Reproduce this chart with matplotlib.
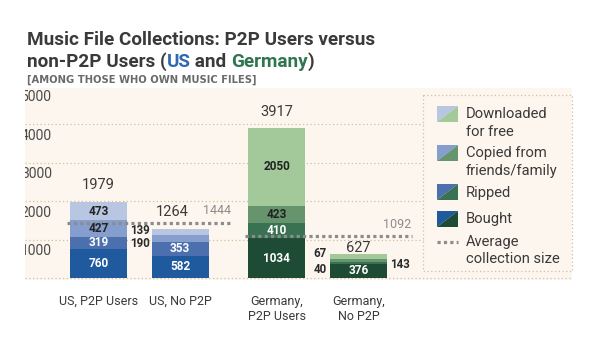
import matplotlib
matplotlib.use("Agg")
import matplotlib.pyplot as plt
from matplotlib.patches import Rectangle, Polygon
import numpy as np

# ---- data ----
categories = ["US, P2P Users", "US, No P2P", "Germany,\nP2P Users", "Germany,\nNo P2P"]
bought     = [760, 582, 1034, 376]
ripped     = [319, 353, 410, 40]
copied     = [427, 190, 423, 67]
downloaded = [473, 139, 2050, 143]
totals     = [1979, 1264, 3917, 627]
avg_us, avg_de = 1444, 1092
yticks = [1000, 2000, 3000, 4000, 5000]
legend_labels = ["Downloaded\nfor free", "Copied from\nfriends/family", "Ripped", "Bought", "Average\ncollection size"]

# ---- style ----
FONT = "Roboto"
plt.rcParams['font.family'] = [FONT, 'DejaVu Sans']
us_cols = ["#1f5a9e", "#4c70ae", "#859ecd", "#b9c6e1"]   # bought, ripped, copied, downloaded
de_cols = ["#1d4b33", "#397252", "#65946d", "#a3c99a"]
txt_dark = "#3a3a3a"
cream = "#fdf6ee"
grid_col = "#d3bf9f"
avg_col = "#8c8c8c"

W, H = 600, 345
fig = plt.figure(figsize=(6, 3.45), dpi=100, facecolor="white")

# plotting axes mapped to pixel region
px_l, px_r, px_t, px_b = 25, 572, 88, 280
ax = fig.add_axes([px_l / W, 1 - px_b / H, (px_r - px_l) / W, (px_b - px_t) / H])
ax.set_facecolor(cream)
for s in ax.spines.values():
    s.set_visible(False)
ax.set_xticks([]); ax.set_yticks([])

xpos = np.array([0, 1, 2.18, 3.18])
unit_px = 81.75
xmin = -(98.5 - px_l) / unit_px
xmax = xmin + (px_r - px_l) / unit_px
ypx = 38.4 / 1000
ax.set_xlim(xmin, xmax)
ax.set_ylim(-(px_b - 278) / ypx, (278 - px_t) / ypx)
width = 0.70
legend_left = (423 - 98.5) / unit_px

# grid
for v in yticks[:-1]:
    ax.plot([xmin, legend_left], [v, v], ls=(0, (1, 2)), lw=0.9, color=grid_col, zorder=1)
ax.plot([xmin, xmax], [0, 0], ls=(0, (1, 2)), lw=0.9, color=grid_col, zorder=1, clip_on=False)

# y tick labels (clipped at panel left edge, as in the reference)
for v in yticks:
    ax.annotate(f"{v}", (xmin, v), xytext=(-3, -3.2), textcoords="offset points",
                ha="left", va="top", fontsize=10, color="#4a4a4a",
                annotation_clip=False, clip_on=True)

# bars
segs = [bought, ripped, copied, downloaded]
for i in range(4):
    cols = us_cols if i < 2 else de_cols
    bottom = 0
    for k, seg in enumerate(segs):
        ax.bar(xpos[i], seg[i], width=width, bottom=bottom, color=cols[k], zorder=2, linewidth=0)
        bottom += seg[i]

# inside labels
def inside(i, k, color):
    b = sum(s[i] for s in segs[:k])
    ax.text(xpos[i], b + segs[k][i] / 2, f"{segs[k][i]}", ha="center", va="center",
            fontsize=8.5, fontweight="bold", color=color, zorder=4)

inside(0, 0, "white"); inside(0, 1, "white"); inside(0, 2, "#222222"); inside(0, 3, "#222222")
inside(1, 0, "white"); inside(1, 1, "white")
inside(2, 0, "white"); inside(2, 1, "white"); inside(2, 2, "#222222"); inside(2, 3, "#222222")
inside(3, 0, "white")

# outside small-segment labels
def outside(i, k, side, dy_pt, dx_pt=2):
    b = sum(s[i] for s in segs[:k]) + segs[k][i] / 2
    x = xpos[i] - width / 2 if side == "left" else xpos[i] + width / 2
    ax.annotate(f"{segs[k][i]}", (x, b), xytext=(-dx_pt if side == "left" else dx_pt, dy_pt),
                textcoords="offset points", ha="right" if side == "left" else "left",
                va="center", fontsize=8.3, fontweight="bold", color="#2a2a2a", zorder=4)

outside(1, 2, "left", -3.5, 1)
outside(1, 3, "left", 1.5, 1)
outside(3, 1, "left", -5, 2)
outside(3, 2, "left", 5, 2)
outside(3, 3, "right", -5.5, 2)

# totals
tot_off = [12.5, 12.5, 11, 4.5]
tot_dx = [0, -6, 0, 0]
for i in range(4):
    ax.annotate(f"{totals[i]}", (xpos[i], totals[i]), xytext=(tot_dx[i], tot_off[i]),
                textcoords="offset points", ha="center", va="center",
                fontsize=10.5, color=txt_dark, zorder=4)

# average lines
us_x0, us_x1 = xpos[0] - width / 2 - 0.04, xpos[1] + width / 2 + 0.27
de_x0, de_x1 = xpos[2] - width / 2 - 0.04, xpos[3] + width / 2 + 0.30
ax.plot([us_x0, us_x1], [avg_us, avg_us], ls=(0, (1, 1)), lw=2.3, color=avg_col, zorder=3)
ax.plot([de_x0, de_x1], [avg_de, avg_de], ls=(0, (1, 1)), lw=2.3, color=avg_col, zorder=3)
ax.annotate(f"{avg_us}", (us_x1, avg_us), xytext=(0, 4), textcoords="offset points",
            ha="right", va="bottom", fontsize=9, color=avg_col)
ax.annotate(f"{avg_de}", (de_x1, avg_de), xytext=(0, 4), textcoords="offset points",
            ha="right", va="bottom", fontsize=9, color=avg_col)

# category labels
for i in range(4):
    ax.annotate(categories[i], (xpos[i], 0), xytext=(0, -12), textcoords="offset points",
                ha="center", va="top", fontsize=9, color=txt_dark, linespacing=1.25,
                annotation_clip=False)

# ---- overlay in pixel coordinates for title & legend ----
ov = fig.add_axes([0, 0, 1, 1], facecolor="none")
ov.set_xlim(0, W); ov.set_ylim(H, 0); ov.axis("off")

TS = 13.6
ov.text(27, 40, "Music File Collections: P2P Users versus", fontsize=TS, fontweight="bold",
        color=txt_dark, va="center", ha="left")
t1 = ov.text(27, 62, "non-P2P Users (", fontsize=TS, fontweight="bold", color=txt_dark, va="center", ha="left")
t2 = ov.annotate("US", xycoords=t1, xy=(1, 0), va="bottom", ha="left", fontsize=TS, fontweight="bold", color="#2e68b0")
t3 = ov.annotate(" and ", xycoords=t2, xy=(1, 0), va="bottom", ha="left", fontsize=TS, fontweight="bold", color=txt_dark)
t4 = ov.annotate("Germany", xycoords=t3, xy=(1, 0), va="bottom", ha="left", fontsize=TS, fontweight="bold", color="#2f7650")
ov.annotate(")", xycoords=t4, xy=(1, 0), va="bottom", ha="left", fontsize=TS, fontweight="bold", color=txt_dark)
ov.text(27, 80, "[AMONG THOSE WHO OWN MUSIC FILES]", fontsize=7.2, fontweight="bold",
        color="#6a6a6a", va="center", ha="left", family=["DejaVu Sans"])

# legend box
ov.add_patch(Rectangle((423, 95), 149, 176, fill=False, ls=(0, (1, 2)), lw=0.9, edgecolor=grid_col))
patch_y = [106, 145, 184, 211]
for k, (uc, dc) in enumerate(zip(us_cols[::-1], de_cols[::-1])):
    y0 = patch_y[k]
    x0, x1, y1 = 437, 458, y0 + 16
    ov.add_patch(Polygon([(x0, y1), (x0, y0), (x1, y0)], closed=True, color=uc, lw=0))
    ov.add_patch(Polygon([(x0, y1), (x1, y0), (x1, y1)], closed=True, color=dc, lw=0))
    lines = legend_labels[k].split("\n")
    for j, ln in enumerate(lines):
        ov.text(466, y0 + 8.5 + j * 17, ln, fontsize=10.6, color=txt_dark, va="center", ha="left")
ov.plot([437, 458], [242, 242], ls=(0, (1, 1)), lw=2.3, color=avg_col)
for j, ln in enumerate(legend_labels[4].split("\n")):
    ov.text(466, 242 + j * 17, ln, fontsize=10.6, color=txt_dark, va="center", ha="left")

fig.savefig("out.png", dpi=100, facecolor="white")
